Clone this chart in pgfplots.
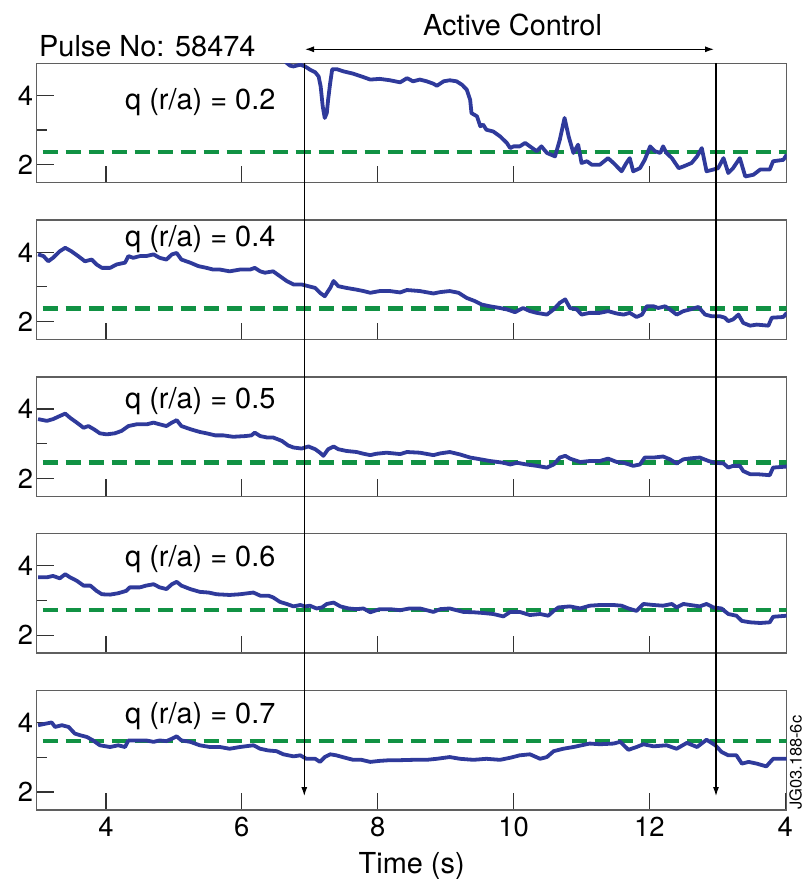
\documentclass[border=0pt]{standalone}
\usepackage{fontspec}
\setmainfont{TeX Gyre Heros}
\usepackage{pgfplots}
\pgfplotsset{compat=1.18}
\usetikzlibrary{arrows.meta}
\definecolor{qblue}{RGB}{47,58,155}
\definecolor{qgreen}{RGB}{17,146,68}
\definecolor{framec}{RGB}{95,95,95}
\newcommand\tf{\fontsize{29}{34}\selectfont}
\newcommand\tkf{\fontsize{27.5}{32}\selectfont}
\tikzset{qlab/.style={anchor=base west, inner sep=0pt, font=\tf}}
\pgfplotsset{
  panel/.style={
    scale only axis, width=750bp, height=119.4bp,
    xmin=2.98, xmax=14.02, ymin=1.48, ymax=4.93,
    anchor=south west,
    xtick={4,6,8,10,12}, xticklabels={},
    ytick={2,4}, yticklabels={2,4}, minor ytick={3},
    xtick pos=left, ytick pos=left, tick align=inside,
    major tick length=17bp, minor tick length=10bp,
    tick style={black!80, line width=1.2bp},
    axis line style={framec, line width=1.4bp},
    tick label style={font=\tkf},
    yticklabel style={inner sep=0pt, xshift=-3.5bp},
    clip mode=individual,
    /pgf/number format/assume math mode=true,
  },
  qline/.style={qblue, line width=3.8bp, line join=round},
  gline/.style={qgreen, line width=4.5bp, dash pattern=on 15bp off 8bp, dash phase=17bp},
}
\begin{document}
\begin{tikzpicture}
\path[use as bounding box] (0,0) rectangle (805bp,-879bp);

% ---------- panel 1 : q(r/a)=0.2
\begin{axis}[panel, at={(36.7bp,-182.7bp)}]
\addplot[gline] coordinates {(2.98,2.36) (14.02,2.36)};
\addplot[qline] coordinates {
(6.55,5.20) (6.66,4.94) (6.71,4.86) (6.76,4.84) (6.86,4.89) (6.93,4.84) (7.00,4.75)
(7.08,4.67) (7.13,4.55) (7.16,4.26) (7.19,3.69) (7.22,3.35) (7.25,3.49) (7.27,3.88)
(7.30,4.36) (7.33,4.76) (7.40,4.76) (7.49,4.70) (7.64,4.63) (7.79,4.53) (7.89,4.46)
(8.03,4.48) (8.18,4.44) (8.33,4.38) (8.43,4.50) (8.52,4.41) (8.62,4.46) (8.72,4.41)
(8.82,4.34) (8.87,4.28) (8.97,4.41) (9.06,4.44) (9.16,4.41) (9.24,4.31) (9.31,4.17)
(9.36,3.88) (9.38,3.49) (9.46,3.40) (9.51,3.11) (9.55,3.16) (9.60,3.01) (9.70,2.96)
(9.80,2.82) (9.90,2.63) (9.95,2.48) (10.00,2.53) (10.09,2.53) (10.17,2.63) (10.24,2.53)
(10.34,2.39) (10.41,2.53) (10.49,2.34) (10.61,2.24) (10.68,2.72) (10.75,3.35) (10.81,2.82)
(10.88,2.34) (10.95,2.58) (11.00,2.05) (11.08,2.10) (11.15,2.00) (11.27,2.00) (11.39,2.19)
(11.47,2.05) (11.59,1.81) (11.66,2.05) (11.71,2.19) (11.76,1.81) (11.86,1.90) (11.93,2.14)
(12.01,2.53) (12.08,2.39) (12.16,2.34) (12.20,2.53) (12.25,2.34) (12.33,2.19) (12.43,1.90)
(12.50,1.95) (12.62,2.05) (12.70,2.24) (12.77,2.48) (12.84,1.81) (12.94,1.86) (13.01,1.90)
(13.09,2.19) (13.16,1.76) (13.23,1.90) (13.33,2.19) (13.41,1.66) (13.53,1.71) (13.63,1.86)
(13.77,1.86) (13.82,2.10) (13.97,2.14) (14.02,2.29)};
\node[qlab] at (axis cs:4.28,3.59) {q (r/a) = 0.2};
\end{axis}

% ---------- panel 2 : q(r/a)=0.4
\begin{axis}[panel, at={(36.7bp,-339.5bp)}]
\addplot[gline] coordinates {(2.98,2.37) (14.02,2.37)};
\addplot[qline] coordinates {
(3.00,3.94) (3.08,3.89) (3.15,3.74) (3.22,3.84) (3.32,4.03) (3.40,4.13) (3.49,4.03)
(3.59,3.89) (3.69,3.74) (3.79,3.79) (3.86,3.65) (3.94,3.55) (4.06,3.55) (4.16,3.65)
(4.28,3.70) (4.33,3.89) (4.40,3.84) (4.50,3.89) (4.59,3.89) (4.70,3.94) (4.79,3.84)
(4.89,3.79) (4.97,3.94) (5.04,3.98) (5.11,3.79) (5.24,3.70) (5.36,3.60) (5.48,3.55)
(5.58,3.50) (5.68,3.50) (5.82,3.45) (5.97,3.50) (6.12,3.50) (6.19,3.55) (6.27,3.45)
(6.34,3.41) (6.46,3.45) (6.56,3.31) (6.66,3.17) (6.76,3.07) (6.88,3.07) (6.98,3.02)
(7.08,2.97) (7.15,2.83) (7.22,2.73) (7.30,2.97) (7.35,3.17) (7.42,3.02) (7.54,2.97)
(7.69,2.92) (7.79,2.88) (7.89,2.83) (8.03,2.88) (8.18,2.88) (8.33,2.84) (8.43,2.91)
(8.62,2.88) (8.82,2.81) (8.92,2.85) (9.06,2.88) (9.19,2.83) (9.31,2.68) (9.43,2.59)
(9.53,2.49) (9.65,2.44) (9.80,2.39) (9.90,2.35) (10.02,2.27) (10.14,2.39) (10.24,2.30)
(10.34,2.25) (10.49,2.20) (10.59,2.35) (10.68,2.54) (10.76,2.64) (10.83,2.39) (10.93,2.35)
(11.00,2.20) (11.12,2.25) (11.27,2.25) (11.39,2.30) (11.52,2.23) (11.62,2.20) (11.71,2.25)
(11.81,2.13) (11.89,2.20) (11.96,2.44) (12.06,2.44) (12.13,2.39) (12.23,2.44) (12.30,2.35)
(12.40,2.20) (12.50,2.30) (12.60,2.35) (12.72,2.42) (12.82,2.20) (12.92,2.15) (13.04,2.15)
(13.11,2.11) (13.16,2.01) (13.23,2.06) (13.31,2.20) (13.38,1.96) (13.48,1.88) (13.58,1.91)
(13.75,1.88) (13.80,2.11) (13.97,2.13) (14.02,2.25)};
\node[qlab] at (axis cs:4.28,4.17) {q (r/a) = 0.4};
\end{axis}

% ---------- panel 3 : q(r/a)=0.5
\begin{axis}[panel, at={(36.7bp,-496.3bp)}]
\addplot[gline] coordinates {(2.98,2.45) (14.02,2.45)};
\addplot[qline] coordinates {
(3.00,3.71) (3.13,3.66) (3.22,3.71) (3.32,3.80) (3.40,3.87) (3.47,3.75) (3.57,3.61)
(3.67,3.46) (3.74,3.51) (3.82,3.42) (3.91,3.30) (4.01,3.27) (4.13,3.30) (4.23,3.37)
(4.33,3.51) (4.45,3.56) (4.60,3.56) (4.70,3.61) (4.79,3.56) (4.89,3.51) (4.97,3.61)
(5.04,3.68) (5.11,3.51) (5.24,3.42) (5.38,3.34) (5.48,3.30) (5.61,3.24) (5.73,3.24)
(5.87,3.20) (6.05,3.22) (6.14,3.24) (6.19,3.32) (6.27,3.22) (6.37,3.18) (6.46,3.18)
(6.59,3.08) (6.68,2.95) (6.76,2.89) (6.88,2.86) (6.98,2.92) (7.08,2.84) (7.15,2.74)
(7.20,2.65) (7.27,2.84) (7.35,2.92) (7.42,2.84) (7.54,2.79) (7.69,2.76) (7.79,2.71)
(7.89,2.67) (7.98,2.71) (8.13,2.74) (8.33,2.70) (8.43,2.76) (8.62,2.74) (8.82,2.67)
(8.92,2.72) (9.06,2.76) (9.21,2.69) (9.36,2.60) (9.51,2.55) (9.65,2.50) (9.85,2.45)
(9.95,2.40) (10.05,2.45) (10.19,2.40) (10.34,2.36) (10.49,2.31) (10.59,2.40) (10.68,2.60)
(10.76,2.65) (10.83,2.57) (10.98,2.47) (11.12,2.50) (11.27,2.50) (11.39,2.57) (11.52,2.47)
(11.62,2.45) (11.76,2.36) (11.86,2.40) (11.93,2.60) (12.06,2.60) (12.20,2.63) (12.30,2.55)
(12.40,2.43) (12.50,2.55) (12.62,2.58) (12.74,2.60) (12.87,2.50) (12.96,2.45) (13.09,2.43)
(13.16,2.31) (13.23,2.36) (13.33,2.36) (13.38,2.21) (13.48,2.12) (13.58,2.12) (13.77,2.09)
(13.82,2.31) (14.02,2.34)};
\node[qlab] at (axis cs:4.28,4.01) {q (r/a) = 0.5};
\end{axis}

% ---------- panel 4 : q(r/a)=0.6
\begin{axis}[panel, at={(36.7bp,-653.1bp)}]
\addplot[gline] coordinates {(2.98,2.72) (14.02,2.72)};
\addplot[qline] coordinates {
(3.00,3.67) (3.13,3.67) (3.22,3.71) (3.32,3.64) (3.40,3.76) (3.47,3.67) (3.57,3.57)
(3.67,3.43) (3.77,3.43) (3.86,3.28) (3.94,3.18) (4.06,3.17) (4.18,3.21) (4.30,3.28)
(4.35,3.38) (4.50,3.38) (4.59,3.43) (4.70,3.47) (4.79,3.38) (4.89,3.33) (4.97,3.47)
(5.04,3.54) (5.11,3.43) (5.24,3.33) (5.38,3.25) (5.51,3.23) (5.63,3.18) (5.82,3.16)
(5.97,3.18) (6.17,3.23) (6.27,3.14) (6.39,3.14) (6.46,3.09) (6.56,2.96) (6.66,2.90)
(6.76,2.83) (6.86,2.87) (6.93,2.83) (7.00,2.85) (7.10,2.77) (7.18,2.80) (7.25,2.90)
(7.35,2.94) (7.45,2.83) (7.57,2.77) (7.69,2.75) (7.79,2.77) (7.89,2.66) (8.03,2.75)
(8.18,2.75) (8.33,2.72) (8.47,2.77) (8.62,2.77) (8.82,2.67) (8.92,2.75) (9.06,2.77)
(9.26,2.67) (9.41,2.66) (9.55,2.64) (9.70,2.61) (9.85,2.54) (9.95,2.67) (10.09,2.67)
(10.24,2.58) (10.39,2.61) (10.51,2.56) (10.59,2.70) (10.66,2.80) (10.83,2.83) (10.98,2.77)
(11.12,2.85) (11.27,2.87) (11.47,2.87) (11.59,2.85) (11.69,2.77) (11.81,2.70) (11.91,2.90)
(12.06,2.87) (12.20,2.85) (12.33,2.90) (12.40,2.80) (12.50,2.90) (12.60,2.87) (12.74,2.83)
(12.84,2.90) (12.94,2.80) (13.06,2.77) (13.16,2.61) (13.28,2.56) (13.36,2.41) (13.48,2.37)
(13.63,2.35) (13.77,2.37) (13.82,2.53) (14.02,2.56)};
\node[qlab] at (axis cs:4.28,3.97) {q (r/a) = 0.6};
\end{axis}

% ---------- panel 5 : q(r/a)=0.7
\begin{axis}[panel, at={(36.7bp,-810bp)},
  xtick={4,6,8,10,12,14}, xticklabels={4,6,8,10,12,4},
  xticklabel style={inner sep=0pt, yshift=-6.5bp},
  xlabel={Time (s)},
  xlabel style={font=\tf, at={(axis description cs:0.5,0)}, anchor=north, inner sep=0pt, yshift=-42bp}]
\addplot[gline] coordinates {(2.98,3.47) (14.02,3.47)};
\addplot[qline] coordinates {
(3.00,3.93) (3.10,3.97) (3.20,4.01) (3.25,3.88) (3.35,3.93) (3.45,3.88) (3.54,3.69)
(3.62,3.64) (3.72,3.59) (3.81,3.49) (3.91,3.35) (4.06,3.30) (4.18,3.35) (4.28,3.30)
(4.33,3.49) (4.45,3.49) (4.59,3.49) (4.70,3.45) (4.79,3.49) (4.89,3.47) (4.97,3.54)
(5.04,3.61) (5.11,3.49) (5.24,3.45) (5.38,3.35) (5.53,3.30) (5.68,3.30) (5.82,3.25)
(5.97,3.30) (6.17,3.35) (6.27,3.25) (6.39,3.20) (6.51,3.18) (6.61,3.09) (6.76,3.03)
(6.86,3.06) (6.95,2.96) (7.08,2.96) (7.15,2.87) (7.22,3.01) (7.30,3.09) (7.39,3.06)
(7.52,2.99) (7.64,2.93) (7.76,2.93) (7.89,2.87) (8.03,2.90) (8.18,2.92) (8.33,2.92)
(8.52,2.93) (8.72,2.93) (8.87,2.96) (9.06,3.01) (9.21,2.96) (9.41,2.93) (9.60,2.96)
(9.80,2.93) (9.95,2.99) (10.09,3.06) (10.24,3.09) (10.39,2.96) (10.49,3.01) (10.59,3.18)
(10.73,3.25) (10.88,3.30) (11.00,3.35) (11.12,3.40) (11.27,3.38) (11.47,3.40) (11.57,3.45)
(11.69,3.22) (11.81,3.30) (11.91,3.38) (12.06,3.32) (12.25,3.35) (12.40,3.25) (12.55,3.42)
(12.70,3.30) (12.84,3.51) (12.97,3.35) (13.06,3.16) (13.16,3.06) (13.28,3.06) (13.36,2.82)
(13.46,2.87) (13.58,2.82) (13.72,2.74) (13.82,2.96) (14.02,2.96)};
\node[qlab] at (axis cs:4.28,3.99) {q (r/a) = 0.7};
\end{axis}

% ---------- annotations
\node[anchor=base west, inner sep=0pt, font=\tf] at (39bp,-56.7bp) {Pulse No: 58474};
\node[anchor=base, inner sep=0pt, font=\tf] at (512.5bp,-35bp) {Active Control};
\draw[black, line width=1.1bp, {Latex[length=9bp,width=6bp]}-{Latex[length=9bp,width=6bp]}]
  (305bp,-49.3bp) -- (714bp,-49.3bp);
\draw[black, line width=1.1bp, -{Latex[length=9bp,width=6bp]}] (304.3bp,-63.3bp) -- (304.3bp,-796bp);
\draw[black, line width=1.1bp, -{Latex[length=9bp,width=6bp]}] (716bp,-63.3bp) -- (716bp,-796bp);
\node[rotate=90, anchor=base west, inner sep=0pt, font=\fontsize{16.5}{20}\selectfont] at (801.5bp,-810bp) {JG03.188-6c};
\end{tikzpicture}
\end{document}
